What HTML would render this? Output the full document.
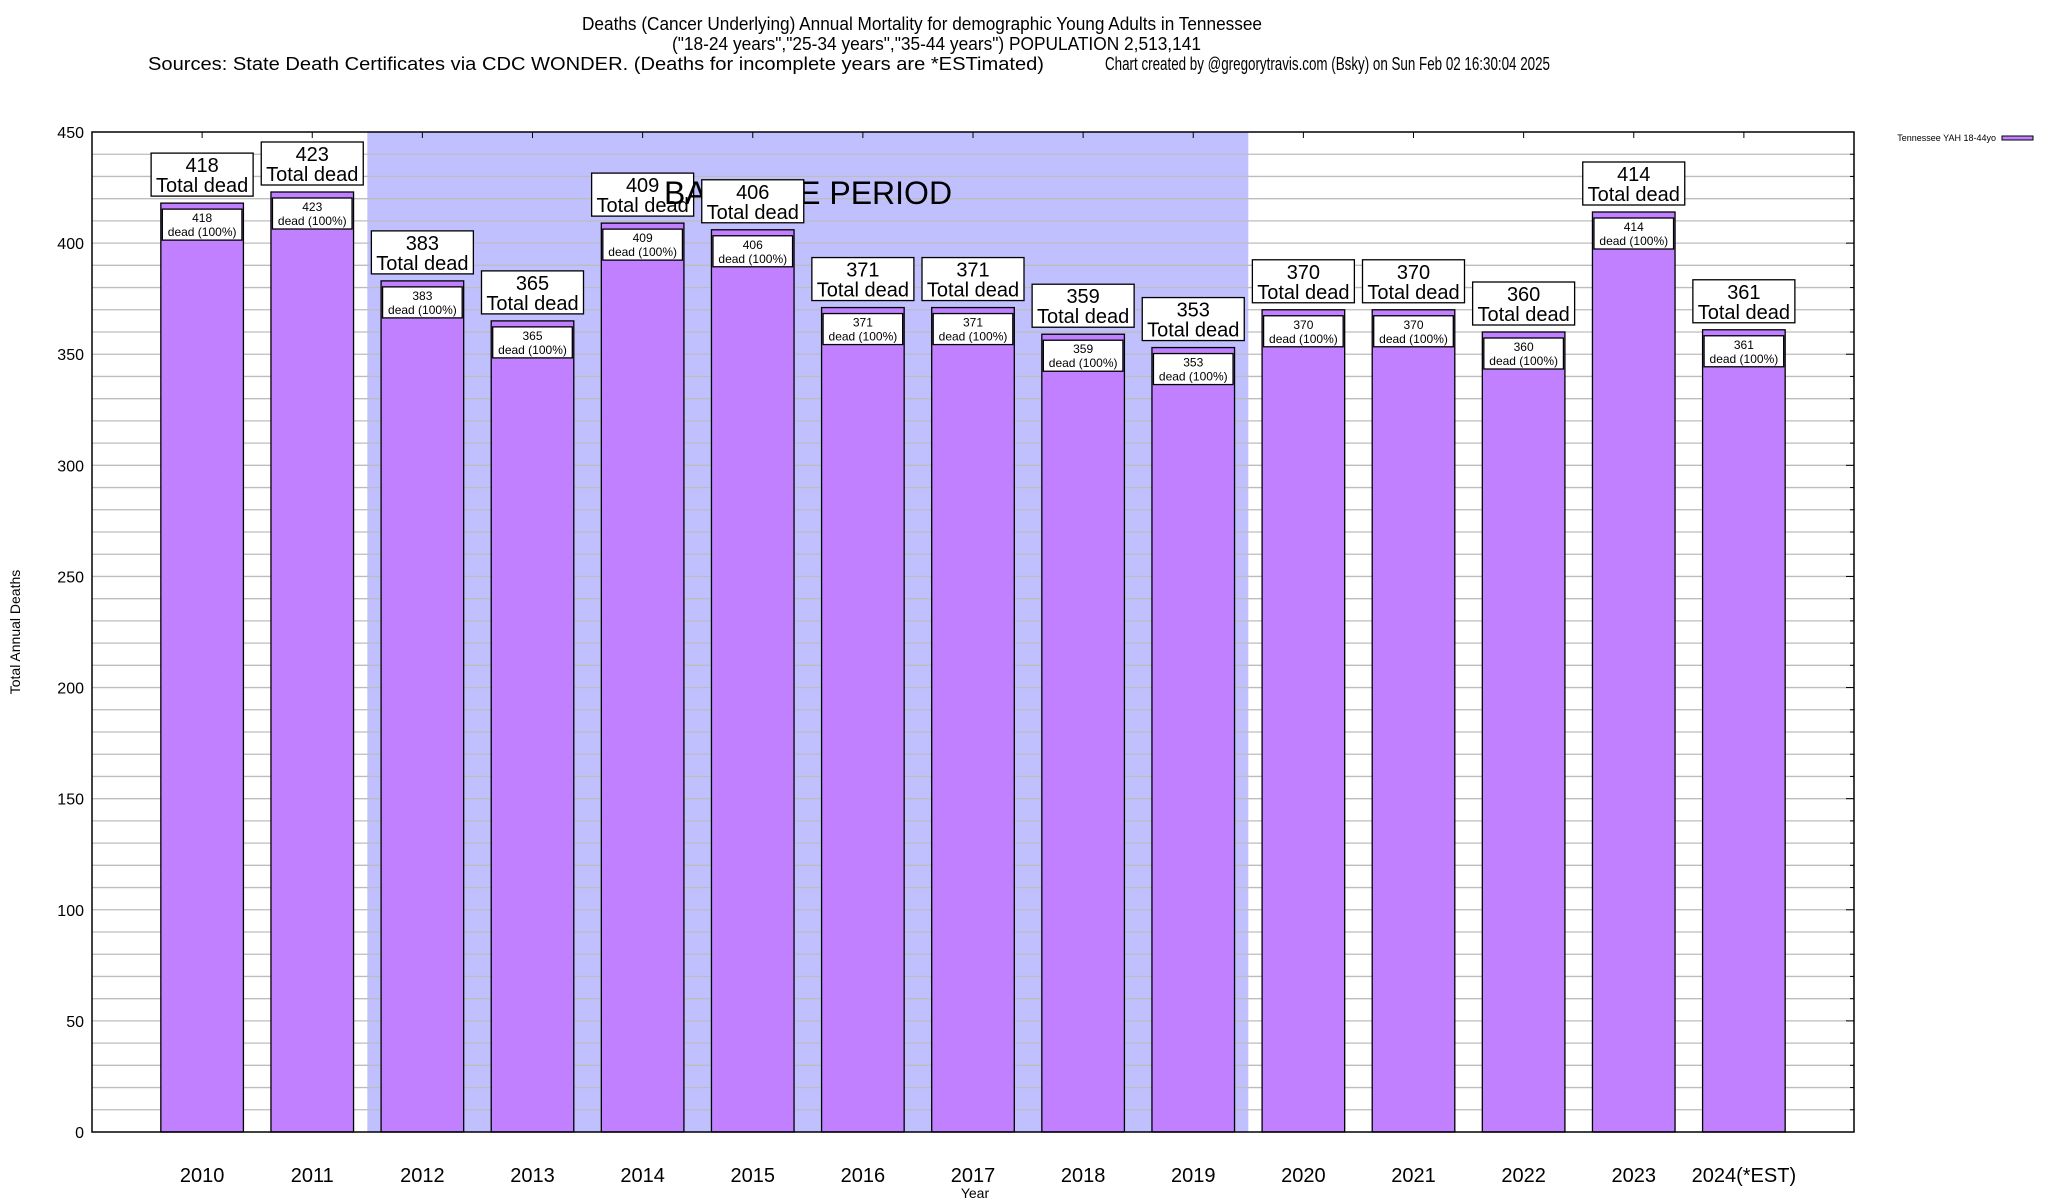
<!DOCTYPE html>
<html><head><meta charset="utf-8">
<style>
html,body{margin:0;padding:0;background:#fff;}
svg{display:block;font-family:"Liberation Sans",Arial,sans-serif;}
</style></head>
<body>
<svg id="chart" width="2048" height="1200" viewBox="0 0 2048 1200" xmlns="http://www.w3.org/2000/svg">
<g font-size="18" fill="#000">
<text x="582" y="30" textLength="680" lengthAdjust="spacingAndGlyphs">Deaths (Cancer Underlying) Annual Mortality for demographic Young Adults in Tennessee</text>
<text x="672" y="50" textLength="529" lengthAdjust="spacingAndGlyphs">("18-24 years","25-34 years","35-44 years") POPULATION 2,513,141</text>
<text x="148" y="70" textLength="896" lengthAdjust="spacingAndGlyphs">Sources: State Death Certificates via CDC WONDER. (Deaths for incomplete years are *ESTimated)</text>
<text x="1105" y="70" textLength="445" lengthAdjust="spacingAndGlyphs">Chart created by @gregorytravis.com (Bsky) on Sun Feb 02 16:30:04 2025</text>
</g>
<g id="plot"></g>
</svg>
<script>
const categories = ["2010","2011","2012","2013","2014","2015","2016","2017","2018","2019","2020","2021","2022","2023","2024(*EST)"];
const deaths = [418,423,383,365,409,406,371,371,359,353,370,370,360,414,361];
const yTicks = [0,50,100,150,200,250,300,350,400,450];
const baselineStart = "2012";
const baselineEnd = "2019";

const NS = "http://www.w3.org/2000/svg";
const L = 92, R = 1854, T = 132, B = 1132, YMAX = 450;
const slot = (R - L) / (categories.length + 1);
const xc = i => L + slot * (i + 1);
const y = v => B - (v / YMAX) * (B - T);
const barW = slot * 0.75;
const g = document.getElementById('plot');
function mk(tag, attrs, parent) {
  const e = document.createElementNS(NS, tag);
  for (const k in attrs) e.setAttribute(k, attrs[k]);
  (parent || g).appendChild(e);
  return e;
}
// baseline shading
const bs = categories.indexOf(baselineStart), be = categories.indexOf(baselineEnd);
const shade = mk('rect', {x: xc(bs) - slot/2, y: T, width: slot*(be-bs+1), height: B-T, fill: '#c0c0ff'});


// gridlines every 10
for (let v = 10; v < YMAX; v += 10) {
  const gl = mk('line', {x1: L, x2: R, y1: y(v), y2: y(v), stroke: '#bdbdbd', 'stroke-width': 1.3});
  
  
  const rt = mk('line', {x1: R - (v % 50 ? 4 : 8), x2: R, y1: y(v), y2: y(v), stroke: '#000', 'stroke-width': 1});
  
  
}
// y tick labels
yTicks.forEach(v => {
  const t = mk('text', {x: 84, y: y(v) + 6, 'text-anchor': 'end', 'font-size': 16});
  t.textContent = v;
  
  
});
// bars
deaths.forEach((d, i) => {
  const b = mk('rect', {x: xc(i) - barW/2, y: y(d), width: barW, height: B - y(d), fill: '#c080ff', stroke: '#000', 'stroke-width': 1.3});
  
  
  const ib = mk('rect', {x: xc(i) - barW/2 + 1.5, y: y(d) + 6, width: barW - 3, height: 31, fill: '#fff', stroke: '#000', 'stroke-width': 1.3});
  
  
  const t1 = mk('text', {x: xc(i), y: y(d) + 19, 'text-anchor': 'middle', 'font-size': 12});
  t1.textContent = d;
  
  
  const t2 = mk('text', {x: xc(i), y: y(d) + 33, 'text-anchor': 'middle', 'font-size': 12});
  t2.textContent = 'dead (100%)';
  
  
  // x label
  const xl = mk('text', {x: xc(i), y: 1182, 'text-anchor': 'middle', 'font-size': 20});
  xl.textContent = categories[i];
  
  
  const tt = mk('line', {x1: xc(i), x2: xc(i), y1: T, y2: T + 6, stroke: '#000', 'stroke-width': 1});
  
  
});
// outer labels
deaths.forEach((d, i) => {
  if (i === 5) {
    const bt = mk('text', {x: 808, y: 204, 'text-anchor': 'middle', 'font-size': 32});
    bt.textContent = 'BASELINE PERIOD';
    
    
  }
  const top = y(d) - 7 - 43;
  const ob = mk('rect', {x: xc(i) - 51, y: top, width: 102, height: 43, fill: '#fff', stroke: '#000', 'stroke-width': 1.3});
  
  
  const a = mk('text', {x: xc(i), y: top + 19, 'text-anchor': 'middle', 'font-size': 20});
  a.textContent = d;
  
  
  const b = mk('text', {x: xc(i), y: top + 39, 'text-anchor': 'middle', 'font-size': 20});
  b.textContent = 'Total dead';
  
  
});
// frame
const fr = mk('rect', {x: L, y: T, width: R - L, height: B - T, fill: 'none', stroke: '#000', 'stroke-width': 1.5});


// axis titles
const yt = mk('text', {x: 20, y: 632, 'text-anchor': 'middle', 'font-size': 14, transform: 'rotate(-90 20 632)'});
yt.textContent = 'Total Annual Deaths';


const xt = mk('text', {x: 975, y: 1198, 'text-anchor': 'middle', 'font-size': 14});
xt.textContent = 'Year';


// legend
const lt = mk('text', {x: 1996, y: 141, 'text-anchor': 'end', 'font-size': 9});
lt.textContent = 'Tennessee YAH 18-44yo';


const ls = mk('rect', {x: 2002, y: 136, width: 31, height: 4, fill: '#c080ff', stroke: '#000', 'stroke-width': 1});


</script>
</body></html>
